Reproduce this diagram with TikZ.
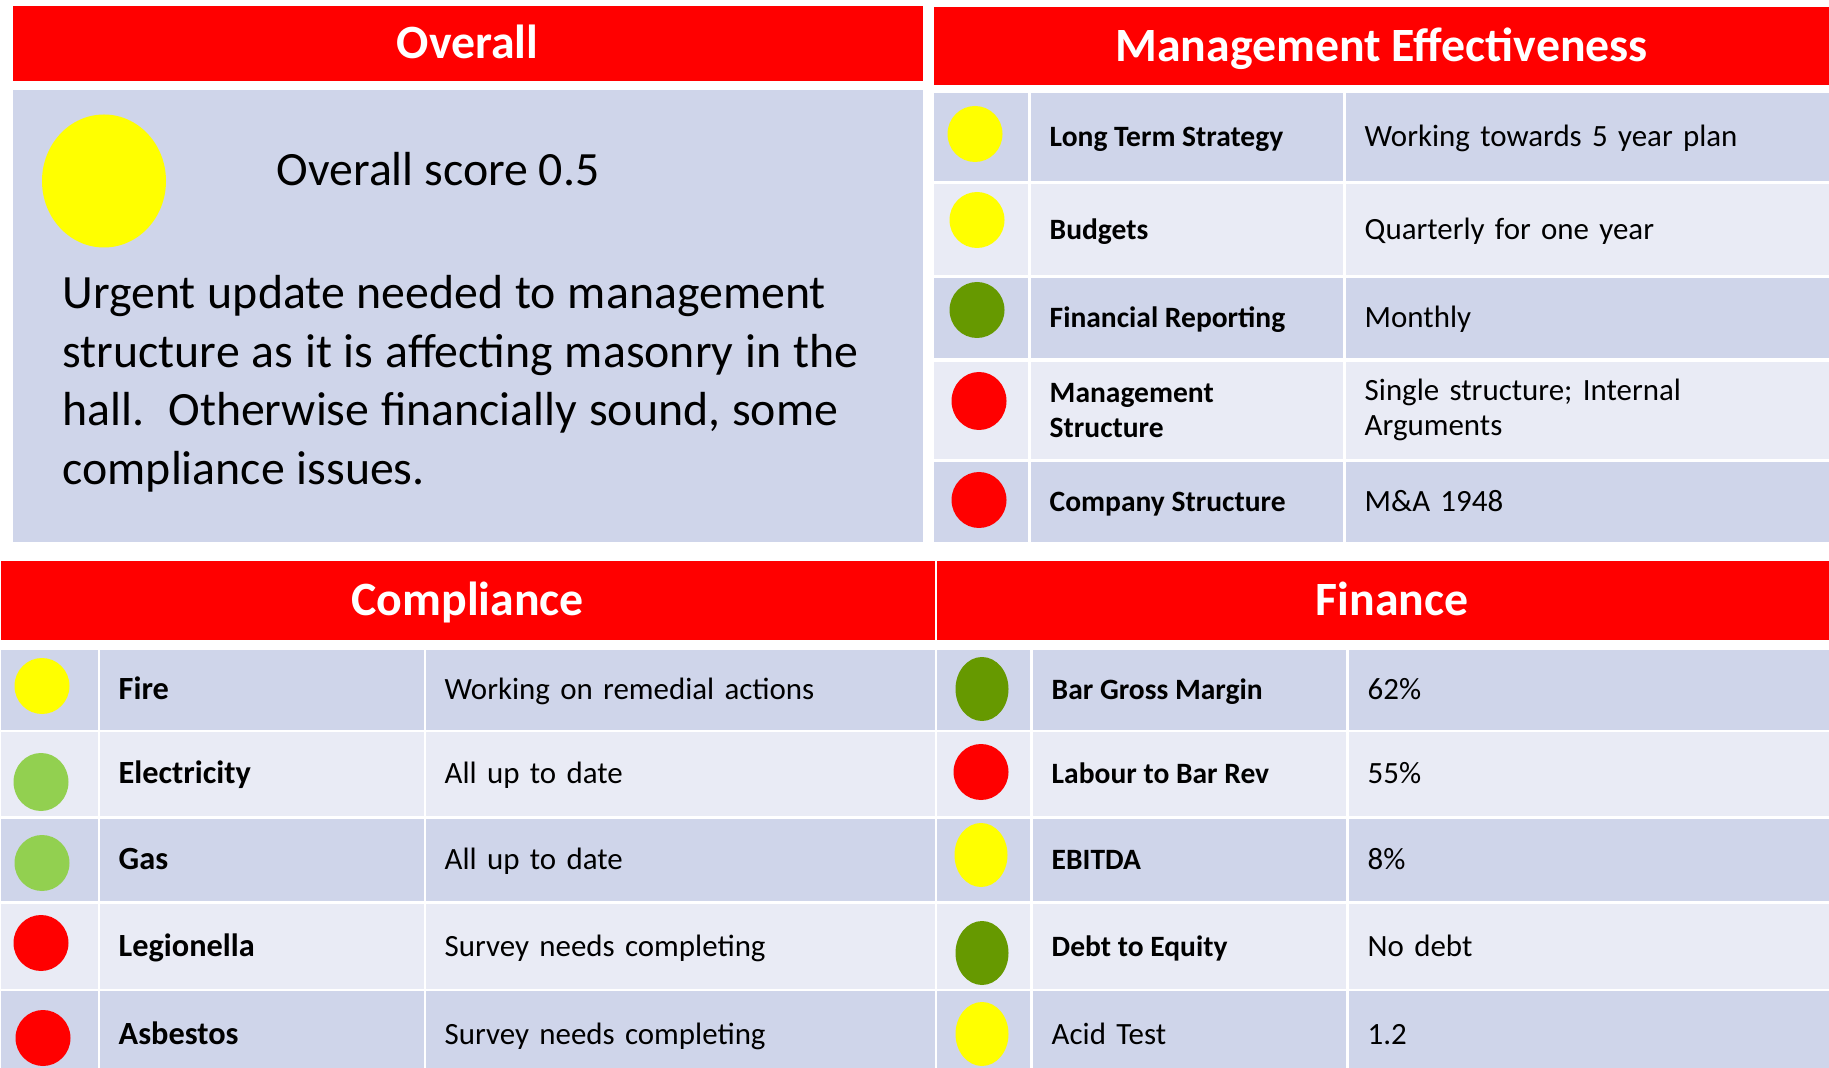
\documentclass[tikz,border=0pt]{standalone}
\usepackage{fontspec}
\setmainfont{Carlito}
\usepackage{tikz}
\usetikzlibrary{shapes.geometric}
\definecolor{hdrred}{HTML}{FF0000}
\definecolor{banddark}{HTML}{CFD5EA}
\definecolor{bandlite}{HTML}{E9EBF5}
\definecolor{amber}{HTML}{FFFF00}
\definecolor{okgreen}{HTML}{669900}
\definecolor{goodgreen}{HTML}{92D050}
\definecolor{badred}{HTML}{FF0000}
\newcommand{\plainsp}{\spaceskip=\fontdimen2\font\relax}
\newcommand{\widesp}{\spaceskip=1.1\fontdimen2\font\relax}
\newcommand{\hdrfont}{\fontsize{13.6}{16}\selectfont\bfseries}
\newcommand{\scorefont}{\fontsize{13.6}{16.6}\selectfont}
\newcommand{\bigfont}{\fontsize{13.6}{16.6}\selectfont}
\newcommand{\tabfont}{\fontsize{8.8}{10}\selectfont}
\newcommand{\labfont}{\bfseries\fontsize{8.4}{9.8}\selectfont\plainsp}
\newcommand{\cplabfont}{\bfseries\fontsize{9.2}{10.6}\selectfont\plainsp}
\tikzset{
  hdr/.style={fill=hdrred, text=white, font=\hdrfont, anchor=north west, inner sep=0pt, text height=8.8pt, text depth=0pt},
  dark/.style={fill=banddark},
  lite/.style={fill=bandlite},
  cell/.style={anchor=north west, inner sep=0pt, minimum width=#1},
  txt/.style n args={2}{anchor=north west, inner xsep=1.9mm, inner ysep=0pt, minimum width=#1, text width=#2, align=left, font=\tabfont, text height=7.6pt, text depth=2pt},
  two lines/.style={text height={}, text depth={}},
  dot/.style={ellipse, inner sep=0pt, minimum width=5.5mm, minimum height=5.6mm},
  tall dot/.style={ellipse, inner sep=0pt, minimum width=5.3mm, minimum height=6.4mm},
}

\begin{document}
\begin{tikzpicture}[x=0.1mm, y=-0.1mm]
  \path[use as bounding box, fill=white] (0,0) rectangle (1829,1068);

  % overall
  \node[hdr, minimum width=91mm, minimum height=7.5mm] (ovh) at (12,5) {Overall};
  \node[cell=91mm, dark, minimum height=45.2mm] (ovp) at (12,89) {};
  \node[ellipse, fill=amber, inner sep=0pt, minimum width=12.4mm, minimum height=13.3mm] (ovd) at (104,181) {};
  \node[anchor=base west, inner sep=0pt, font=\scorefont] (ovs) at (276,186) {Overall score 0.5};
  \node[anchor=base west, inner sep=0pt, font=\bigfont, text width=88mm, align=left] (ovt) at (62,309)
    {\widesp Urgent update needed to management\\structure as it is affecting masonry in the\\hall.\ \ Otherwise financially sound, some\\compliance issues.};

  % management effectiveness
  \node[hdr, minimum width=89.6mm, minimum height=7.8mm] (meh) at (933,6) {Management Effectiveness};
  \node[cell=9.4mm, dark, minimum height=8.8mm] (me1c) at (933,92) {};
  \node[txt={31.2mm}{27.4mm}, dark, minimum height=8.8mm] (me1l) at (1030,92) {\labfont Long Term Strategy};
  \node[txt={48.4mm}{44.6mm}, dark, minimum height=8.8mm] (me1v) at (1345,92) {Working towards 5 year plan};
  \node[dot, fill=amber] (me1d) at (975,134) {};
  \node[cell=9.4mm, lite, minimum height=9.1mm] (me2c) at (933,183) {};
  \node[txt={31.2mm}{27.4mm}, lite, minimum height=9.1mm] (me2l) at (1030,183) {\labfont Budgets};
  \node[txt={48.4mm}{44.6mm}, lite, minimum height=9.1mm] (me2v) at (1345,183) {Quarterly for one year};
  \node[dot, fill=amber] (me2d) at (977,220) {};
  \node[cell=9.4mm, dark, minimum height=8.0mm] (me3c) at (933,277) {};
  \node[txt={31.2mm}{27.4mm}, dark, minimum height=8.0mm] (me3l) at (1030,277) {\labfont Financial Reporting};
  \node[txt={48.4mm}{44.6mm}, dark, minimum height=8.0mm] (me3v) at (1345,277) {Monthly};
  \node[dot, fill=okgreen] (me3d) at (977,310) {};
  \node[cell=9.4mm, lite, minimum height=9.7mm] (me4c) at (933,361) {};
  \node[txt={31.2mm}{27.4mm}, two lines, lite, minimum height=9.7mm] (me4l) at (1030,361) {\labfont Management\\Structure};
  \node[txt={48.4mm}{44.6mm}, two lines, lite, minimum height=9.7mm] (me4v) at (1345,361) {Single structure; Internal\\Arguments};
  \node[dot, fill=badred, minimum height=5.8mm] (me4d) at (979,401) {};
  \node[cell=9.4mm, dark, minimum height=8.0mm] (me5c) at (933,461) {};
  \node[txt={31.2mm}{27.4mm}, dark, minimum height=8.0mm] (me5l) at (1030,461) {\labfont Company Structure};
  \node[txt={48.4mm}{44.6mm}, dark, minimum height=8.0mm] (me5v) at (1345,461) {M\&A 1948};
  \node[dot, fill=badred] (me5d) at (979,500) {};

  % compliance
  \node[hdr, minimum width=93.4mm, minimum height=7.9mm] (cph) at (0,560) {Compliance};
  \node[cell=9.7mm, dark, minimum height=8.0mm] (cp1c) at (0,649) {};
  \node[txt={32.4mm}{28.6mm}, dark, minimum height=8.0mm] (cp1l) at (99,649) {\cplabfont Fire};
  \node[txt={50.9mm}{47.1mm}, dark, minimum height=8.0mm] (cp1v) at (425,649) {Working on remedial actions};
  \node[dot, fill=amber] (cp1d) at (42,686) {};
  \node[cell=9.7mm, lite, minimum height=8.4mm] (cp2c) at (0,731) {};
  \node[txt={32.4mm}{28.6mm}, lite, minimum height=8.4mm] (cp2l) at (99,731) {\cplabfont Electricity};
  \node[txt={50.9mm}{47.1mm}, lite, minimum height=8.4mm] (cp2v) at (425,731) {All up to date};
  \node[dot, fill=goodgreen, minimum height=5.8mm] (cp2d) at (41,782) {};
  \node[cell=9.7mm, dark, minimum height=8.2mm] (cp3c) at (0,818) {};
  \node[txt={32.4mm}{28.6mm}, dark, minimum height=8.2mm] (cp3l) at (99,818) {\cplabfont Gas};
  \node[txt={50.9mm}{47.1mm}, dark, minimum height=8.2mm] (cp3v) at (425,818) {All up to date};
  \node[dot, fill=goodgreen] (cp3d) at (42,863) {};
  \node[cell=9.7mm, lite, minimum height=8.5mm] (cp4c) at (0,903) {};
  \node[txt={32.4mm}{28.6mm}, lite, minimum height=8.5mm] (cp4l) at (99,903) {\cplabfont Legionella};
  \node[txt={50.9mm}{47.1mm}, lite, minimum height=8.5mm] (cp4v) at (425,903) {Survey needs completing};
  \node[dot, fill=badred] (cp4d) at (41,943) {};
  \node[cell=9.7mm, dark, minimum height=8.8mm] (cp5c) at (0,990) {};
  \node[txt={32.4mm}{28.6mm}, dark, minimum height=8.8mm] (cp5l) at (99,990) {\cplabfont Asbestos};
  \node[txt={50.9mm}{47.1mm}, dark, minimum height=8.8mm] (cp5v) at (425,990) {Survey needs completing};
  \node[dot, fill=badred] (cp5d) at (43,1038) {};

  % finance
  \node[hdr, minimum width=89.3mm, minimum height=7.9mm] (fih) at (936,560) {\hspace*{1.8mm}Finance};
  \node[cell=9.3mm, dark, minimum height=8.0mm] (fi1c) at (936,649) {};
  \node[txt={31.3mm}{27.5mm}, dark, minimum height=8.0mm] (fi1l) at (1032,649) {\labfont Bar Gross Margin};
  \node[txt={48.1mm}{44.3mm}, dark, minimum height=8.0mm] (fi1v) at (1348,649) {62\%};
  \node[tall dot, fill=okgreen] (fi1d) at (982,689) {};
  \node[cell=9.3mm, lite, minimum height=8.4mm] (fi2c) at (936,731) {};
  \node[txt={31.3mm}{27.5mm}, lite, minimum height=8.4mm] (fi2l) at (1032,731) {\labfont Labour to Bar Rev};
  \node[txt={48.1mm}{44.3mm}, lite, minimum height=8.4mm] (fi2v) at (1348,731) {55\%};
  \node[dot, fill=badred] (fi2d) at (981,772) {};
  \node[cell=9.3mm, dark, minimum height=8.2mm] (fi3c) at (936,818) {};
  \node[txt={31.3mm}{27.5mm}, dark, minimum height=8.2mm] (fi3l) at (1032,818) {\labfont EBITDA};
  \node[txt={48.1mm}{44.3mm}, dark, minimum height=8.2mm] (fi3v) at (1348,818) {8\%};
  \node[tall dot, fill=amber] (fi3d) at (981,855) {};
  \node[cell=9.3mm, lite, minimum height=8.5mm] (fi4c) at (936,903) {};
  \node[txt={31.3mm}{27.5mm}, lite, minimum height=8.5mm] (fi4l) at (1032,903) {\labfont Debt to Equity};
  \node[txt={48.1mm}{44.3mm}, lite, minimum height=8.5mm] (fi4v) at (1348,903) {No debt};
  \node[tall dot, fill=okgreen] (fi4d) at (982,953) {};
  \node[cell=9.3mm, dark, minimum height=8.8mm] (fi5c) at (936,990) {};
  \node[txt={31.3mm}{27.5mm}, dark, minimum height=8.8mm] (fi5l) at (1032,990) {Acid Test};
  \node[txt={48.1mm}{44.3mm}, dark, minimum height=8.8mm] (fi5v) at (1348,990) {1.2};
  \node[tall dot, fill=amber] (fi5d) at (982,1034) {};
\end{tikzpicture}
\end{document}
